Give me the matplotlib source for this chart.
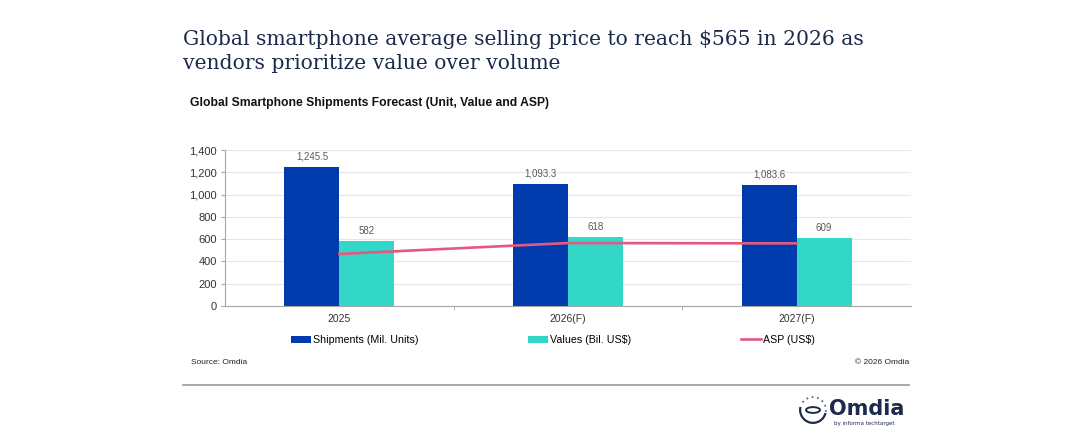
import matplotlib
matplotlib.use("Agg")
import matplotlib.pyplot as plt
from matplotlib.patches import Arc, Circle
from matplotlib.lines import Line2D
import numpy as np

# chart data
years = ["2025", "2026(F)", "2027(F)"]
shipments = [1245.5, 1093.3, 1083.6]   # Mil. units
values = [582, 618, 609]               # Bil. US$
asp = [467, 565, 562]                  # US$

ship_labels = ["1,245.5", "1,093.3", "1,083.6"]
value_labels = ["582", "618", "609"]

c_ship = "#003BAE"
c_val = "#33D7C8"
c_asp = "#E5587F"
c_title = "#1C2B4B"
c_lab = "#595959"

sans = ["Liberation Sans", "DejaVu Sans"]

fig = plt.figure(figsize=(10.72, 4.47), dpi=100)
ax = fig.add_axes([225 / 1072, 1 - 306 / 447, 686 / 1072, 156 / 447])

x = np.arange(len(years))
w = 0.24
h1 = ax.bar(x - w / 2, shipments, w, color=c_ship, label="Shipments (Mil. Units)", zorder=2)
h2 = ax.bar(x + w / 2, values, w, color=c_val, label="Values (Bil. US$)", zorder=2)
h3, = ax.plot(x, asp, color=c_asp, lw=1.9, label="ASP (US$)", zorder=3)

for i in range(len(years)):
    ax.annotate(ship_labels[i], (x[i] - w / 2, shipments[i]), xytext=(0, 4),
                textcoords="offset points", ha="center", va="bottom",
                fontsize=7, color=c_lab, family=sans)
    ax.annotate(value_labels[i], (x[i] + w / 2, values[i]), xytext=(0, 4),
                textcoords="offset points", ha="center", va="bottom",
                fontsize=7, color=c_lab, family=sans)

ax.set_xlim(-0.5, 2.5)
ax.set_ylim(0, 1400)
ax.set_yticks(range(0, 1401, 200))
ax.set_yticklabels([f"{v:,}" for v in range(0, 1401, 200)], family=sans)
ax.set_xticks(x)
ax.set_xticklabels(years, family=sans)
ax.set_xticks([0.5, 1.5], minor=True)
ax.tick_params(axis="x", which="major", length=0, labelsize=7.5, pad=6, colors="#333333")
ax.tick_params(axis="x", which="minor", length=3, color="#A6A6A6")
ax.tick_params(axis="y", length=3, color="#A6A6A6", labelsize=8, labelcolor="#333333", pad=3)
ax.grid(axis="y", color="#E6E6E6", lw=0.8, zorder=0)
for s in ["top", "right"]:
    ax.spines[s].set_visible(False)
ax.spines["left"].set_color("#A6A6A6")
ax.spines["bottom"].set_color("#A6A6A6")
ax.spines["left"].set_linewidth(0.8)
ax.spines["bottom"].set_linewidth(0.8)

fig.legend(handles=[h1, h2, h3], loc="center", bbox_to_anchor=(553 / 1072, 1 - 340 / 447),
           ncol=3, frameon=False, prop={"family": sans, "size": 7.7},
           handlelength=1.9, handleheight=0.7, handletextpad=0.2, columnspacing=10.2)

# titles
fig.text(183 / 1072, 1 - 30 / 447,
         "Global smartphone average selling price to reach $565 in 2026 as\nvendors prioritize value over volume",
         ha="left", va="top", fontsize=14.6, color=c_title, family="DejaVu Serif",
         linespacing=1.35)
fig.text(190 / 1072, 1 - 103 / 447, "Global Smartphone Shipments Forecast (Unit, Value and ASP)",
         ha="left", va="center", fontsize=8.7, fontweight="bold", color="#111111", family=sans)

fig.text(191 / 1072, 1 - 363 / 447, "Source: Omdia", ha="left", va="center",
         fontsize=6, color="#222222", family=sans)
fig.text(909 / 1072, 1 - 363 / 447, "© 2026 Omdia", ha="right", va="center",
         fontsize=6, color="#222222", family=sans)

fig.add_artist(Line2D([183 / 1072, 909 / 1072], [1 - 385 / 447, 1 - 385 / 447],
                      color="#9A9A9A", lw=1.2, transform=fig.transFigure))

# logo
lx, ly = 813 / 1072, 1 - 410 / 447
fig.add_artist(Circle((lx, ly), 0.0065, transform=fig.transFigure, fill=False,
                      ec=c_title, lw=1.4))
fig.add_artist(Arc((lx, ly), 0.024, 0.024 * 1072 / 447, theta1=150, theta2=330,
                   transform=fig.transFigure, color=c_title, lw=1.6))
fig.add_artist(Arc((lx, ly), 0.024, 0.024 * 1072 / 447, theta1=-20, theta2=130,
                   transform=fig.transFigure, color="#5A6A85", lw=1.3, ls=(0, (1, 2))))
fig.text(829 / 1072, 1 - 409 / 447, "Omdia", ha="left", va="center", fontsize=15,
         fontweight="bold", color=c_title, family="DejaVu Sans")
fig.text(834 / 1072, 1 - 423 / 447, "by informa techtarget", ha="left", va="center",
         fontsize=4, color=c_title, family="DejaVu Sans")

fig.savefig("out.png", dpi=100)
